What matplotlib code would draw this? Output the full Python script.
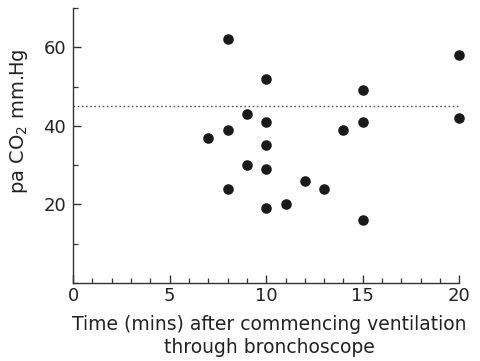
import matplotlib
matplotlib.use("Agg")
import matplotlib.pyplot as plt
from matplotlib.ticker import MultipleLocator

# time after start of ventilation (mins) and paCO2 (mm Hg)
minutes = [8, 10, 15, 20, 9, 10, 8, 7, 14, 15, 20, 10, 9, 10, 8, 12, 13, 10, 11, 15]
paco2 = [62, 52, 49, 58, 43, 41, 39, 37, 39, 41, 42, 35, 30, 29, 24, 26, 24, 19, 20, 16]
normal_level = 45

plt.rcParams['font.family'] = ['DejaVu Sans']

fig = plt.figure(figsize=(4.81, 3.61), dpi=100)
ax = fig.add_axes([0.152, 0.216, 0.815, 0.762])

ax.scatter(minutes, paco2, s=58, color='#1a1a1a', zorder=3, linewidths=0)
ax.plot([0, 20], [normal_level, normal_level], linestyle=(0, (1.2, 1.8)),
        color='#555555', linewidth=1.0)

ax.set_xlim(0, 20.3)
ax.set_ylim(0, 70)
ax.spines['top'].set_visible(False)
ax.spines['right'].set_visible(False)
ax.spines['bottom'].set_bounds(0, 20)
for sp in ('left', 'bottom'):
    ax.spines[sp].set_color('#333333')
    ax.spines[sp].set_linewidth(1.0)

ax.xaxis.set_major_locator(MultipleLocator(5))
ax.xaxis.set_minor_locator(MultipleLocator(1))
ax.yaxis.set_minor_locator(MultipleLocator(10))
ax.set_yticks([20, 40, 60])
ax.tick_params(which='major', direction='in', length=6, width=1.0,
               colors='#333333', labelsize=13, labelcolor='#222222')
ax.tick_params(which='minor', direction='in', length=3.5, width=0.9, colors='#333333')
ax.tick_params(axis='x', pad=3)
ax.tick_params(axis='y', pad=5)

ax.set_xlabel('Time (mins) after commencing ventilation\nthrough bronchoscope',
              fontsize=13.5, color='#222222', linespacing=1.3, labelpad=7)
ax.set_ylabel('pa CO$_2$ mm.Hg', fontsize=14, color='#222222')
ax.yaxis.set_label_coords(-0.11, 0.59)

fig.savefig('out.png', dpi=100)
